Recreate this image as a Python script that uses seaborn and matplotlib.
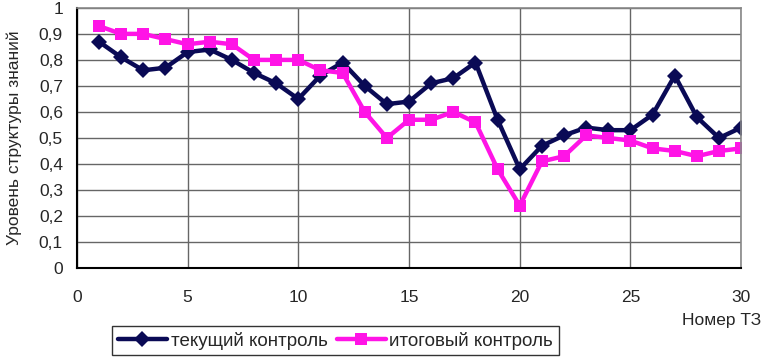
import pandas as pd
import matplotlib.pyplot as plt
import seaborn as sns
from matplotlib.ticker import FuncFormatter, MultipleLocator

# Values
task_no = list(range(1, 31))
current_control = [0.87, 0.81, 0.76, 0.77, 0.83, 0.84, 0.80, 0.75, 0.71, 0.65,
                   0.74, 0.79, 0.70, 0.63, 0.64, 0.71, 0.73, 0.79, 0.57, 0.38,
                   0.47, 0.51, 0.54, 0.53, 0.53, 0.59, 0.74, 0.58, 0.50, 0.54]
final_control = [0.93, 0.90, 0.90, 0.88, 0.86, 0.87, 0.86, 0.80, 0.80, 0.80,
                 0.76, 0.75, 0.60, 0.50, 0.57, 0.57, 0.60, 0.56, 0.38, 0.24,
                 0.41, 0.43, 0.51, 0.50, 0.49, 0.46, 0.45, 0.43, 0.45, 0.46]
series_names = ["текущий контроль", "итоговый контроль"]

df = pd.concat([
    pd.DataFrame({"x": task_no, "y": current_control, "series": series_names[0]}),
    pd.DataFrame({"x": task_no, "y": final_control, "series": series_names[1]}),
])

sns.set_style("white")
plt.rcParams['font.family'] = ['Liberation Sans', 'DejaVu Sans']

fig = plt.figure(figsize=(7.61, 3.57), dpi=100)
ax = fig.add_axes([0.101, 0.249, 0.873, 0.729])

colors = {series_names[0]: "#0a0a55", series_names[1]: "#ff14e6"}
markers = {series_names[0]: "D", series_names[1]: "s"}

sns.lineplot(data=df, x="x", y="y", hue="series", style="series",
             palette=colors, markers=markers, dashes=False,
             linewidth=3.2, markersize=8.5, markeredgewidth=0, ax=ax,
             hue_order=series_names, style_order=series_names)

ax.set_xlim(0, 30)
ax.set_ylim(0, 1)
ax.xaxis.set_major_locator(MultipleLocator(5))
ax.yaxis.set_major_locator(MultipleLocator(0.1))
ax.yaxis.set_major_formatter(FuncFormatter(
    lambda v, p: "0" if abs(v) < 1e-9 else ("1" if abs(v - 1) < 1e-9 else f"{v:.1f}".replace(".", ","))))

ax.grid(True, color="#666666", linewidth=1.0)
ax.set_axisbelow(True)
for side in ["left", "bottom"]:
    ax.spines[side].set_color("black")
    ax.spines[side].set_linewidth(1.5)
for side in ["top", "right"]:
    ax.spines[side].set_color("#888888")
    ax.spines[side].set_linewidth(1.2)
ax.tick_params(axis="both", which="major", direction="out", length=4,
               width=1, labelsize=12.5, color="black")
ax.tick_params(axis="x", pad=12)
ax.tick_params(axis="y", pad=6)

ax.set_xlabel("Номер ТЗ", fontsize=12.5)
ax.xaxis.set_label_coords(1.03, -0.2, transform=ax.transAxes)
ax.xaxis.label.set_horizontalalignment("right")
ax.xaxis.label.set_verticalalignment("center")
ax.set_ylabel("Уровень структуры знаний", fontsize=12.5, labelpad=12)

handles, labels = ax.get_legend_handles_labels()
ax.legend(handles, labels, loc="center", bbox_to_anchor=(0.441, 0.046),
          bbox_transform=fig.transFigure, ncol=2, frameon=True, fancybox=False,
          edgecolor="black", fontsize=13.5, handlelength=2.6, handletextpad=0.2,
          columnspacing=0.5, borderpad=0.3, borderaxespad=0)
ax.get_legend().get_frame().set_linewidth(1.0)

fig.savefig("out.png", dpi=100)
plt.close(fig)
